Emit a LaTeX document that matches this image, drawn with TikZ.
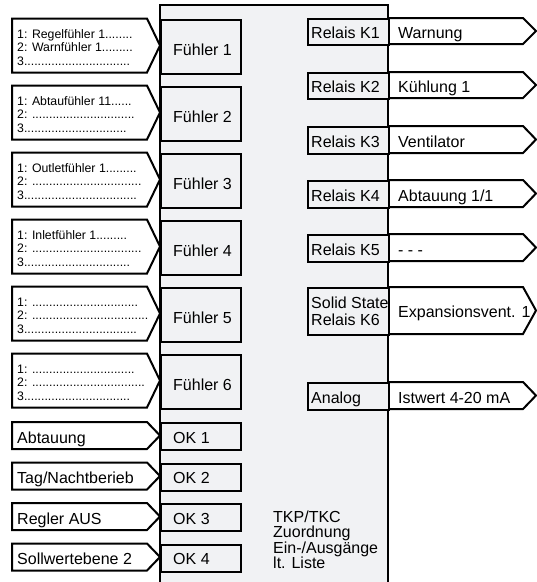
\documentclass[tikz,border=0pt]{standalone}
\usepackage{fontspec}
\setmainfont{Liberation Sans}
\definecolor{panel}{RGB}{241,242,244}
\newcommand\Tdots{..........}
\newcommand\linesthree[3]{\vtop{\baselineskip=13.4pt\hbox{#1}\hbox{#2}\hbox{#3}}}
\tikzset{
  outl/.style={draw=black, line width=2pt, line join=miter},
  boxst/.style={outl, fill=panel, inner sep=0pt, anchor=north west},
  pent/.style={outl, fill=white},
  big/.style={font=\fontsize{16}{16}\selectfont, inner sep=0pt, anchor=base west},
  small/.style={font=\fontsize{12.3}{13.4}\selectfont, inner sep=0pt, anchor=base west},
}
% sensor group: #1 top, #2 index, #3-#5 lines
\newcommand\sensor[5]{%
  \path[pent] (12,#1) -- (147,#1) -- (160,#1+27) -- (147,#1+54) -- (12,#1+54) -- cycle;
  \node[boxst, minimum width=80pt, minimum height=54pt] (fb#2) at (160,#1) {};
  \node[big] (fl#2) at (173,#1+36.5) {Fühler #2};
  \node[small] (fs#2) at (17,#1+20) {\linesthree{#3}{#4}{#5}};
}
% contact group: #1 top, #2 index, #3 label
\newcommand\contact[3]{%
  \path[pent] (12,#1) -- (147,#1) -- (160,#1+13.5) -- (147,#1+27) -- (12,#1+27) -- cycle;
  \node[boxst, minimum width=80pt, minimum height=27pt] (ok#2) at (160,#1) {};
  \node[big] (okl#2) at (173,#1+21) {OK #2};
  \node[big] (okt#2) at (17,#1+21) {#3};
}
% relay group: #1 top, #2 height, #3 name, #4 relay label, #5 output label, #6 baseline offset
\newcommand\relay[6]{%
  \path[pent] (388,#1) -- (523,#1) -- (536,#1+#2/2) -- (523,#1+#2) -- (388,#1+#2) -- cycle;
  \node[boxst, minimum width=81pt, minimum height=#2 pt] (rb#3) at (307,#1) {};
  \node[big] (rl#3) at (311,#1+#6) {#4};
  \node[big] (ro#3) at (398,#1+#6) {#5};
}
\begin{document}
\begin{tikzpicture}[x=1pt,y=-1pt]
\useasboundingbox (0,0) rectangle (537,582);
\fill[panel] (160,5) rectangle (388,582);
\draw[line width=1.8pt] (160,582) -- (160,5) -- (388,5) -- (388,582);

\sensor{18.5}{1}{1: Regelfühler 1........}{2: Warnfühler 1.........}{3\Tdots\Tdots\Tdots.}
\sensor{85.5}{2}{1: Abtaufühler 11......}{2: \Tdots\Tdots\Tdots}{3\Tdots\Tdots\Tdots}
\sensor{152.5}{3}{1: Outletfühler 1.........}{2: \Tdots\Tdots\Tdots..}{3\Tdots\Tdots\Tdots...}
\sensor{219.5}{4}{1: Inletfühler 1.........}{2: \Tdots\Tdots\Tdots..}{3\Tdots\Tdots\Tdots.}
\sensor{286.5}{5}{1: \Tdots\Tdots\Tdots.}{2: \Tdots\Tdots\Tdots....}{3\Tdots\Tdots\Tdots...}
\sensor{353.5}{6}{1: \Tdots\Tdots\Tdots}{2: \Tdots\Tdots\Tdots...}{3\Tdots\Tdots\Tdots.}

\contact{422}{1}{Abtauung}
\contact{462.5}{2}{Tag/Nachtberieb}
\contact{503}{3}{Regler AUS}
\contact{543.5}{4}{Sollwertebene 2}

\relay{18}{26}{1}{Relais K1}{Warnung}{20}
\relay{72}{26}{2}{Relais K2}{Kühlung 1}{20}
\relay{126}{27}{3}{Relais K3}{Ventilator}{21}
\relay{180}{27}{4}{Relais K4}{Abtauung 1/1}{21}
\relay{234}{27}{5}{Relais K5}{- - -}{21}
\relay{287}{47}{6}{}{Expansionsvent. 1}{30}
\node[big] (k6) at (311,308) {\vtop{\baselineskip=17pt\hbox{Solid State}\hbox{Relais K6}}};
\relay{382}{27}{7}{Analog}{Istwert 4-20 mA}{21}

\node[big] (tkp) at (273,522) {\vtop{\baselineskip=15.6pt\hbox{TKP/TKC}\hbox{Zuordnung}\hbox{Ein-/Ausgänge}\hbox{lt. Liste}}};
\end{tikzpicture}
\end{document}
